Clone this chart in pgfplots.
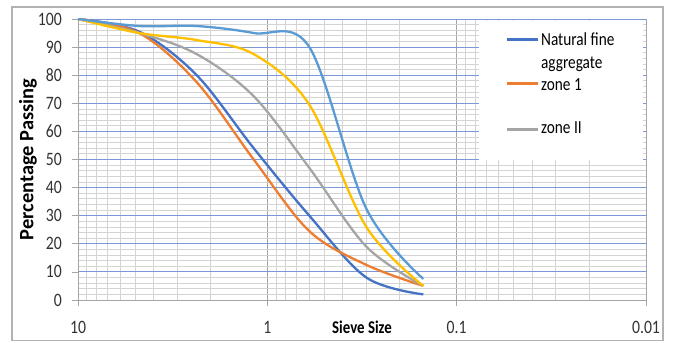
\documentclass[border=0pt]{standalone}
\usepackage{pgfplots}
\usepackage{pgfplotstable}
\pgfplotsset{compat=1.18}
\usepackage{fontspec}
\setmainfont{Carlito}[FakeStretch=0.83]
\newfontfamily\ylfont{Carlito}
\definecolor{cNat}{HTML}{4472C4}
\definecolor{cZ1}{HTML}{ED7D31}
\definecolor{cZ2}{HTML}{A5A5A5}
\definecolor{cZ3}{HTML}{FFC000}
\definecolor{cZ4}{HTML}{5B9BD5}
\definecolor{gridblue}{RGB}{125,152,214}
\definecolor{gridgray}{RGB}{212,212,212}
\definecolor{gridmaj}{RGB}{165,165,165}
\pgfplotstableread{
x    nat  z1   z2   z3   z4
10   100  100  100  100  100
4.75 95.5 95   95   95   97.5
2.36 80   77.5 87.5 92.5 97.5
1.18 54   50   72.5 87.5 95
0.6  30   24.5 47   69.5 90
0.3  8    12.5 19   26   32.5
0.15 2    5    5    5    7.5
}\sieve
\begin{document}
\begin{tikzpicture}[x=1bp,y=1bp]
\fill[white] (0,0) rectangle (675,342);
\draw[gray!60, line width=1.2bp] (12,1.5) rectangle (663,335);
\begin{axis}[
  at={(78bp,42bp)}, anchor=south west,
  width=568bp, height=281bp, scale only axis,
  xmode=log, x dir=reverse,
  xmin=0.01, xmax=10, ymin=0, ymax=100,
  xtick={0.01,0.1,1,10}, xticklabels={0.01,0.1,1,10},
  minor xtick={0.02,0.03,0.04,0.05,0.06,0.07,0.08,0.09,0.2,0.3,0.4,0.5,0.6,0.7,0.8,0.9,2,3,4,5,6,7,8,9},
  ytick={0,10,...,100}, minor y tick num=4,
  grid=both,
  major x grid style={gridmaj, line width=0.8bp},
  minor x grid style={gridgray, line width=0.8bp},
  major y grid style={gridblue, line width=0.9bp},
  minor y grid style={gridgray, line width=0.8bp},
  axis x line*=bottom, axis y line*=left,
  axis line style={gridmaj, line width=0.9bp, -},
  tick align=outside, major tick length=6bp, minor tick length=0pt,
  tick style={gridmaj, line width=0.8bp},
  /pgf/number format/assume math mode=true,
  ticklabel style={font=\fontsize{19}{22}\selectfont, text=black!80},
  yticklabel style={anchor=east, inner sep=0pt, xshift=-10bp},
  xticklabel style={anchor=north, inner sep=0pt, yshift=-15bp},
  xlabel={\bfseries Sieve Size},
  every axis x label/.style={at={(axis description cs:0.5,0)}, anchor=north, inner sep=0pt, yshift=-21bp, font=\fontsize{18}{21}\selectfont},
  ylabel={\ylfont\bfseries Percentage Passing},
  every axis y label/.style={at={(axis description cs:-0.088,0.5)}, rotate=90, anchor=center, font=\fontsize{20.5}{24}\selectfont},
]
\fill[white] (axis description cs:0.706,0.498) rectangle (axis description cs:0.995,0.993);
\addplot[cNat, line width=2.3bp, smooth, tension=0.55] table[x=x, y=nat] {\sieve};
\addplot[cZ1, line width=2.3bp, smooth, tension=0.55] table[x=x, y=z1] {\sieve};
\addplot[cZ2, line width=2.3bp, smooth, tension=0.55] table[x=x, y=z2] {\sieve};
\addplot[cZ3, line width=2.3bp, smooth, tension=0.55] table[x=x, y=z3] {\sieve};
\addplot[cZ4, line width=2.3bp, smooth, tension=0.55] table[x=x, y=z4] {\sieve};
% legend
\draw[cNat, line width=2.6bp] (axis description cs:0.755,0.928) -- (axis description cs:0.810,0.928);
\draw[cZ1, line width=2.6bp] (axis description cs:0.755,0.771) -- (axis description cs:0.810,0.771);
\draw[cZ2, line width=2.6bp] (axis description cs:0.755,0.607) -- (axis description cs:0.810,0.607);
\node[anchor=base west, inner sep=0pt, font=\fontsize{18.5}{21}\selectfont] at (axis description cs:0.815,0.905) {Natural fine};
\node[anchor=base west, inner sep=0pt, font=\fontsize{18.5}{21}\selectfont] at (axis description cs:0.815,0.825) {aggregate};
\node[anchor=base west, inner sep=0pt, font=\fontsize{18.5}{21}\selectfont] at (axis description cs:0.815,0.747) {zone 1};
\node[anchor=base west, inner sep=0pt, font=\fontsize{18.5}{21}\selectfont] at (axis description cs:0.815,0.593) {zone II};
\end{axis}
\end{tikzpicture}
\end{document}
